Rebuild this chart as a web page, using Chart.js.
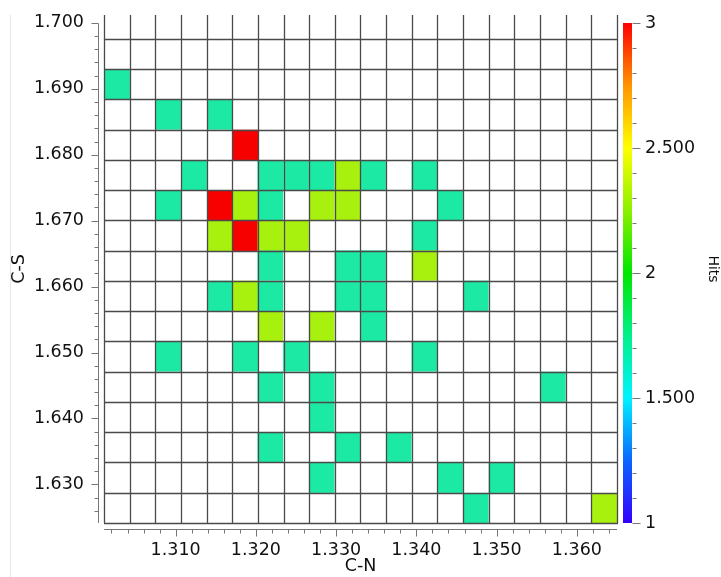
<!DOCTYPE html>
<html>
<head>
<meta charset="utf-8">
<script src="https://cdn.jsdelivr.net/npm/chart.js@4.4.1/dist/chart.umd.min.js"></script>
<style>
  html, body { margin: 0; padding: 0; background: #fff; }
  #wrap { width: 721px; height: 577px; }
</style>
</head>
<body>
<div id="wrap"><canvas id="chart"></canvas></div>
<script>
// filled cells: bin centre on C-N (x), bin centre on C-S (y), number of hits
const hitCN = [
    1.3027,
    1.3091, 1.3155,
    1.3187,
    1.3123, 1.3218, 1.3250, 1.3282, 1.3314, 1.3346, 1.3410,
    1.3091, 1.3155, 1.3187, 1.3218, 1.3282, 1.3314, 1.3442,
    1.3155, 1.3187, 1.3218, 1.3250, 1.3410,
    1.3218, 1.3314, 1.3346, 1.3410,
    1.3155, 1.3187, 1.3218, 1.3314, 1.3346, 1.3474,
    1.3218, 1.3282, 1.3346,
    1.3091, 1.3187, 1.3250, 1.3410,
    1.3218, 1.3282, 1.3570,
    1.3282,
    1.3218, 1.3314, 1.3378,
    1.3282, 1.3442, 1.3506,
    1.3474, 1.3634
];
const hitCS = [
    1.6907,
    1.6861, 1.6861,
    1.6815,
    1.6769, 1.6769, 1.6769, 1.6769, 1.6769, 1.6769, 1.6769,
    1.6723, 1.6723, 1.6723, 1.6723, 1.6723, 1.6723, 1.6723,
    1.6677, 1.6677, 1.6677, 1.6677, 1.6677,
    1.6632, 1.6632, 1.6632, 1.6632,
    1.6586, 1.6586, 1.6586, 1.6586, 1.6586, 1.6586,
    1.6540, 1.6540, 1.6540,
    1.6494, 1.6494, 1.6494, 1.6494,
    1.6448, 1.6448, 1.6448,
    1.6402,
    1.6356, 1.6356, 1.6356,
    1.6310, 1.6310, 1.6310,
    1.6264, 1.6264
];
const hitCount = [
    1,
    1, 1,
    3,
    1, 1, 1, 1, 2, 1, 1,
    1, 3, 2, 1, 2, 2, 1,
    2, 3, 2, 2, 1,
    1, 1, 1, 2,
    1, 2, 1, 1, 1, 1,
    2, 2, 1,
    1, 1, 1, 1,
    1, 1, 1,
    1,
    1, 1, 1,
    1, 1, 1,
    1, 2
];

// histogram bins
const cnEdgeStart = 1.30107, cnBinWidth = 0.0031966, cnBinCount = 20;
const csEdgeStart = 1.62414, csBinWidth = 0.00459, csBinCount = 16;

// tick labels
const cnTicks = [1.31, 1.32, 1.33, 1.34, 1.35, 1.36];
const csTicks = [1.63, 1.64, 1.65, 1.66, 1.67, 1.68, 1.69, 1.70];
const hitsTicks = [1, 1.5, 2, 2.5, 3];

const cellColours = { 1: '#1ce9a4', 2: '#a8f10e', 3: '#f70000' };
const inkColour = '#111';
const axisColour = '#777';

Chart.defaults.font.family = '"DejaVu Sans", sans-serif';
Chart.defaults.font.size = 17.5;
Chart.defaults.color = inkColour;

const points = hitCN.map((cn, i) => ({ x: cn, y: hitCS[i], hits: hitCount[i] }));

const heatmap = {
    id: 'heatmap',
    beforeDatasetsDraw(chart) {
        const { ctx, chartArea: a, scales: { x, y } } = chart;
        ctx.save();
        chart.data.datasets[0].data.forEach(p => {
            const x0 = x.getPixelForValue(p.x - cnBinWidth / 2);
            const x1 = x.getPixelForValue(p.x + cnBinWidth / 2);
            const y0 = y.getPixelForValue(p.y + csBinWidth / 2);
            const y1 = y.getPixelForValue(p.y - csBinWidth / 2);
            ctx.fillStyle = cellColours[p.hits];
            ctx.fillRect(x0, y0, x1 - x0, y1 - y0);
        });

        ctx.strokeStyle = '#4a4a4a';
        ctx.lineWidth = 1.3;
        ctx.beginPath();
        for (let i = 0; i <= cnBinCount; i++) {
            const px = Math.round(x.getPixelForValue(cnEdgeStart + i * cnBinWidth)) + 0.5;
            ctx.moveTo(px, a.top);
            ctx.lineTo(px, a.bottom);
        }
        for (let j = 0; j <= csBinCount; j++) {
            const py = Math.round(y.getPixelForValue(csEdgeStart + j * csBinWidth)) + 0.5;
            ctx.moveTo(a.left, py);
            ctx.lineTo(a.right + 1, py);
        }
        ctx.stroke();
        ctx.restore();
    },
    afterDraw(chart) {
        const { ctx, chartArea: a, scales: { x, y, c } } = chart;
        ctx.save();

        // faint frame line on the left
        ctx.strokeStyle = '#e6e6e6';
        ctx.lineWidth = 1;
        ctx.beginPath();
        ctx.moveTo(10.5, a.top);
        ctx.lineTo(10.5, chart.height);
        ctx.stroke();

        ctx.strokeStyle = axisColour;
        ctx.beginPath();

        // C-S axis, set off from the plot
        const ax = a.left - 6 + 0.5;
        ctx.moveTo(ax, Math.round(y.getPixelForValue(1.70)) + 0.5);
        ctx.lineTo(ax, a.bottom);
        for (let k = 813; k <= 850; k++) {
            const py = Math.round(y.getPixelForValue(k * 0.002)) + 0.5;
            ctx.moveTo(ax, py);
            ctx.lineTo(ax - (k % 5 === 0 ? 7 : 4), py);
        }

        // C-N axis
        const ay = a.bottom + 6 + 0.5;
        ctx.moveTo(a.left, ay);
        ctx.lineTo(a.right, ay);
        for (let k = 651; k <= 682; k++) {
            const px = Math.round(x.getPixelForValue(k * 0.002)) + 0.5;
            ctx.moveTo(px, ay);
            ctx.lineTo(px, ay + (k % 5 === 0 ? 7 : 4));
        }
        ctx.stroke();

        // colour bar
        const cbLeft = a.right + 6, cbWidth = 9;
        const cbTop = c.getPixelForValue(3), cbBottom = c.getPixelForValue(1);
        const g = ctx.createLinearGradient(0, cbBottom, 0, cbTop);
        [['#3300ff', 0], ['#0a66ff', 0.125], ['#00f2ff', 0.25], ['#00f08a', 0.375],
         ['#00e600', 0.5], ['#8cf000', 0.625], ['#ffff00', 0.75], ['#ff9400', 0.875],
         ['#ff0000', 1]].forEach(([col, t]) => g.addColorStop(t, col));
        ctx.fillStyle = g;
        ctx.fillRect(cbLeft, cbTop, cbWidth, cbBottom - cbTop);

        const bx = cbLeft + cbWidth + 0.5;
        ctx.beginPath();
        for (let k = 10; k <= 30; k++) {
            const py = Math.round(c.getPixelForValue(k / 10)) + 0.5;
            ctx.moveTo(bx, py);
            ctx.lineTo(bx + (k % 5 === 0 ? 8 : 4), py);
        }
        ctx.stroke();
        ctx.restore();
    }
};

const setTicks = values => scale => { scale.ticks = values.map(value => ({ value })); };
// fixed scale sizes so the plot box lands where it does in the picture
const fixSize = (w, h) => s => {
    if (w !== null) s.width = w;
    if (h !== null) s.height = h;
    s.paddingTop = s.paddingBottom = s.paddingLeft = s.paddingRight = 0;
};
const noLines = { display: false, drawTicks: false };

new Chart(document.getElementById('chart'), {
    type: 'scatter',
    data: {
        datasets: [{
            label: 'Hits',
            data: points,
            pointRadius: 0,
            pointHoverRadius: 0
        }]
    },
    options: {
        responsive: true,
        maintainAspectRatio: false,
        animation: false,
        events: [],
        layout: { padding: { top: 15, left: 0, right: 0, bottom: 0 } },
        plugins: { legend: { display: false }, tooltip: { enabled: false } },
        scales: {
            x: {
                type: 'linear',
                position: 'bottom',
                min: cnEdgeStart,
                max: cnEdgeStart + cnBinCount * cnBinWidth,
                afterBuildTicks: setTicks(cnTicks),
                afterFit: fixSize(null, 54),
                grid: noLines,
                border: { display: false },
                ticks: { autoSkip: false, maxRotation: 0, padding: 17, callback: v => v.toFixed(3) },
                title: { display: true, text: 'C-N', padding: { top: 0, bottom: 0 } }
            },
            y: {
                type: 'linear',
                position: 'left',
                min: csEdgeStart,
                max: 1.7012,
                afterBuildTicks: setTicks(csTicks),
                afterFit: fixSize(104, null),
                grid: noLines,
                border: { display: false },
                ticks: { autoSkip: false, padding: 20, callback: v => v.toFixed(3) },
                title: { display: true, text: 'C-S', padding: { top: 9, bottom: 0 } }
            },
            c: {
                axis: 'y',
                type: 'linear',
                position: 'right',
                min: 1,
                max: 3.032,
                afterBuildTicks: setTicks(hitsTicks),
                afterFit: fixSize(104, null),
                grid: noLines,
                border: { display: false },
                ticks: { autoSkip: false, padding: 28, callback: v => Number.isInteger(v) ? String(v) : v.toFixed(3) },
                title: { display: true, text: 'Hits', font: { size: 14 }, padding: { top: 0, bottom: 0 } }
            }
        }
    },
    plugins: [heatmap]
});
</script>
</body>
</html>
